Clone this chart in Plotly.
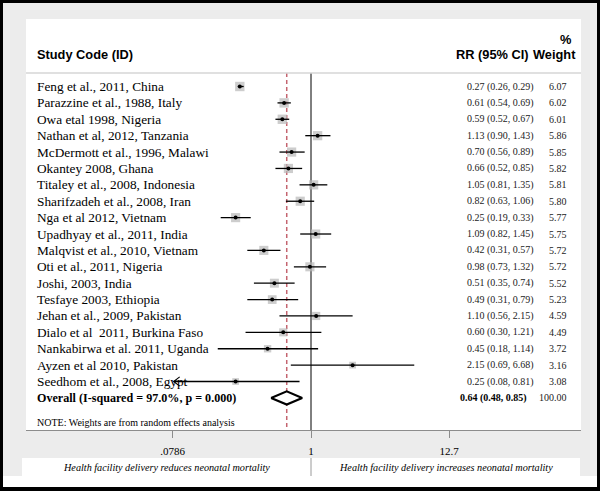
import math
import plotly.graph_objects as go

# ---------------- data ----------------
studies = [
    "Feng et al., 2011, China",
    "Parazzine et al., 1988, Italy",
    "Owa etal 1998, Nigeria",
    "Nathan et al, 2012, Tanzania",
    "McDermott et al., 1996, Malawi",
    "Okantey 2008, Ghana",
    "Titaley et al., 2008, Indonesia",
    "Sharifzadeh et al., 2008, Iran",
    "Nga et al 2012, Vietnam",
    "Upadhyay et al., 2011, India",
    "Malqvist et al., 2010, Vietnam",
    "Oti et al., 2011, Nigeria",
    "Joshi, 2003, India",
    "Tesfaye 2003, Ethiopia",
    "Jehan et al., 2009, Pakistan",
    "Dialo et al\u00a0 2011, Burkina Faso",
    "Nankabirwa et al. 2011, Uganda",
    "Ayzen et al 2010, Pakistan",
    "Seedhom et al., 2008, Egypt",
]
rr = [0.27, 0.61, 0.59, 1.13, 0.70, 0.66, 1.05, 0.82, 0.25, 1.09,
      0.42, 0.98, 0.51, 0.49, 1.10, 0.60, 0.45, 2.15, 0.25]
ci_lo = [0.26, 0.54, 0.52, 0.90, 0.56, 0.52, 0.81, 0.63, 0.19, 0.82,
         0.31, 0.73, 0.35, 0.31, 0.56, 0.30, 0.18, 0.69, 0.08]
ci_hi = [0.29, 0.69, 0.67, 1.43, 0.89, 0.85, 1.35, 1.06, 0.33, 1.45,
         0.57, 1.32, 0.74, 0.79, 2.15, 1.21, 1.14, 6.68, 0.81]
weights = [6.07, 6.02, 6.01, 5.86, 5.85, 5.82, 5.81, 5.80, 5.77, 5.75,
           5.72, 5.72, 5.52, 5.23, 4.59, 4.49, 3.72, 3.16, 3.08]

overall_label = "Overall (I-squared = 97.0%, p = 0.000)"
overall_rr = 0.64
overall_lo = 0.48
overall_hi = 0.85
overall_weight = "100.00"

tick_vals = [0.0786, 1, 12.7]
tick_text = [".0786", "1", "12.7"]

header_study = "Study Code (ID)"
header_rr = "RR (95% CI)"
header_w1 = "%"
header_w2 = "Weight"
note_text = "NOTE: Weights are from random effects analysis"
left_label = "Health facility delivery reduces neonatal mortality"
right_label = "Health facility delivery increases neonatal mortality"

# ---------------- geometry ----------------
W, H = 600, 491
PL, PR, PT, PB = 26, 581, 19, 430          # plot area in pixels
PX_ONE = 311                               # pixel of RR = 1
PX_PER_DEC = 125.2
ROW0_PX, ROW_STEP = 86.5, 16.39

def xp(px):   # pixel -> paper x
    return (px - PL) / (PR - PL)

def yp(py):   # pixel -> paper y
    return (PB - py) / (PB - PT)

def yrow(py):  # pixel -> row units
    return (py - ROW0_PX) / ROW_STEP

rows = list(range(len(studies)))
overall_row = len(studies)

serif = "Liberation Serif, Times New Roman, serif"
sans = "Liberation Sans, Arial, Helvetica, sans-serif"

fig = go.Figure()

# reference lines
y_top, y_bot = yrow(73), yrow(PB)
fig.add_trace(go.Scatter(x=[1, 1], y=[y_top, y_bot], mode="lines",
                         line=dict(color="black", width=1), hoverinfo="skip"))
fig.add_trace(go.Scatter(x=[overall_rr, overall_rr], y=[y_top, y_bot], mode="lines",
                         line=dict(color="#c4646f", width=1.5, dash="4px,3px"),
                         hoverinfo="skip"))

# weight boxes
wmax = max(weights)
sizes = [9.4 * math.sqrt(w / wmax) for w in weights]
fig.add_trace(go.Scatter(x=rr, y=rows, mode="markers",
                         marker=dict(symbol="square", size=sizes, color="#b8b8b8",
                                     line=dict(width=0)), hoverinfo="skip"))

# CI lines (clipped at axis minimum tick, arrows for clipped)
clip_lo = tick_vals[0]
lx, ly, ax_, ay_ = [], [], [], []
f = 10 ** (6 / PX_PER_DEC)
for r, lo, hi in zip(rows, ci_lo, ci_hi):
    left = max(lo, clip_lo)
    lx += [left, hi, None]
    ly += [r, r, None]
    if lo < clip_lo * 1.1:
        ax_ += [left * f, left, left * f, None]
        ay_ += [r - 0.28, r, r + 0.28, None]
fig.add_trace(go.Scatter(x=lx, y=ly, mode="lines",
                         line=dict(color="black", width=1.3), hoverinfo="skip"))
fig.add_trace(go.Scatter(x=ax_, y=ay_, mode="lines",
                         line=dict(color="black", width=1.1), hoverinfo="skip"))

# point estimates
fig.add_trace(go.Scatter(x=rr, y=rows, mode="markers",
                         marker=dict(symbol="circle", size=4, color="black"),
                         hoverinfo="skip"))

# overall diamond
dh = 0.4
fig.add_trace(go.Scatter(
    x=[overall_lo, overall_rr, overall_hi, overall_rr, overall_lo],
    y=[overall_row, overall_row - dh, overall_row, overall_row + dh, overall_row],
    mode="lines", fill="toself", fillcolor="white",
    line=dict(color="black", width=2.2), hoverinfo="skip"))

# ---------------- text ----------------
ann = []
for r, s, est, lo, hi, w in zip(rows, studies, rr, ci_lo, ci_hi, weights):
    ann.append(dict(x=xp(35), y=r, xref="paper", yref="y", text=s,
                    xanchor="left", yanchor="middle", showarrow=False,
                    font=dict(family=serif, size=13.3, color="black")))
    ann.append(dict(x=xp(465), y=r, xref="paper", yref="y",
                    text=f"{est:.2f} ({lo:.2f}, {hi:.2f})",
                    xanchor="left", yanchor="middle", showarrow=False,
                    font=dict(family=serif, size=10, color="#222")))
    ann.append(dict(x=xp(569), y=r, xref="paper", yref="y", text=f"{w:.2f}",
                    xanchor="right", yanchor="middle", showarrow=False,
                    font=dict(family=serif, size=10, color="#222")))

ann.append(dict(x=xp(35), y=overall_row, xref="paper", yref="y",
                text="<b>" + overall_label + "</b>", xanchor="left", yanchor="middle",
                showarrow=False, font=dict(family=serif, size=12.1, color="black")))
ann.append(dict(x=xp(458), y=overall_row, xref="paper", yref="y",
                text=f"<b>{overall_rr:.2f} ({overall_lo:.2f}, {overall_hi:.2f})</b>",
                xanchor="left", yanchor="middle", showarrow=False,
                font=dict(family=serif, size=10, color="black")))
ann.append(dict(x=xp(569), y=overall_row, xref="paper", yref="y", text=overall_weight,
                xanchor="right", yanchor="middle", showarrow=False,
                font=dict(family=serif, size=10, color="#222")))

ann.append(dict(x=xp(35), y=yrow(422), xref="paper", yref="y", text=note_text,
                xanchor="left", yanchor="middle", showarrow=False,
                font=dict(family=serif, size=10, color="black")))

# headers
ann.append(dict(x=xp(35), y=yrow(54), xref="paper", yref="y", text="<b>" + header_study + "</b>",
                xanchor="left", yanchor="middle", showarrow=False,
                font=dict(family=sans, size=12.8, color="black")))
ann.append(dict(x=xp(531), y=yrow(54), xref="paper", yref="y", text="<b>" + header_rr + "</b>",
                xanchor="right", yanchor="middle", showarrow=False,
                font=dict(family=sans, size=12.8, color="black")))
ann.append(dict(x=xp(578), y=yrow(54), xref="paper", yref="y", text="<b>" + header_w2 + "</b>",
                xanchor="right", yanchor="middle", showarrow=False,
                font=dict(family=sans, size=12.8, color="black")))
ann.append(dict(x=xp(566), y=yrow(39), xref="paper", yref="y", text="<b>" + header_w1 + "</b>",
                xanchor="center", yanchor="middle", showarrow=False,
                font=dict(family=sans, size=12.8, color="black")))

# bottom labels
ann.append(dict(x=xp(166), y=yp(467), xref="paper", yref="paper",
                text="<i>" + left_label + "</i>", xanchor="center", yanchor="middle",
                showarrow=False, font=dict(family=serif, size=10.2, color="black")))
ann.append(dict(x=xp(446), y=yp(467), xref="paper", yref="paper",
                text="<i>" + right_label + "</i>", xanchor="center", yanchor="middle",
                showarrow=False, font=dict(family=serif, size=10.2, color="black")))

# ---------------- background shapes ----------------
shapes = [
    dict(type="rect", xref="paper", yref="paper", x0=xp(3), x1=xp(597), y0=yp(3), y1=yp(487),
         fillcolor="white", line=dict(width=0), layer="below"),
    dict(type="rect", xref="paper", yref="paper", x0=xp(3), x1=xp(597), y0=yp(3), y1=yp(476),
         fillcolor="#ececec", line=dict(width=0), layer="below"),
    dict(type="rect", xref="paper", yref="paper", x0=0, x1=1, y0=0, y1=1,
         fillcolor="white", line=dict(width=0), layer="below"),
    dict(type="rect", xref="paper", yref="paper", x0=xp(22), x1=xp(580), y0=yp(458), y1=yp(476),
         fillcolor="white", line=dict(width=0), layer="below"),
    dict(type="line", xref="paper", yref="paper", x0=0, x1=1, y0=yp(73), y1=yp(73),
         line=dict(color="#d6d6d6", width=1.6)),
    dict(type="line", xref="paper", yref="paper", x0=xp(PX_ONE), x1=xp(PX_ONE),
         y0=yp(458), y1=yp(476), line=dict(color="#9a9a9a", width=1)),
]

x_range = [(PL - PX_ONE) / PX_PER_DEC, (PR - PX_ONE) / PX_PER_DEC]

fig.update_layout(
    width=W, height=H,
    margin=dict(l=PL, r=W - PR, t=PT, b=H - PB, pad=0),
    paper_bgcolor="black", plot_bgcolor="white",
    showlegend=False,
    annotations=ann, shapes=shapes,
    xaxis=dict(type="log", range=x_range, tickvals=tick_vals, ticktext=tick_text,
               ticks="outside", ticklen=7, tickcolor="#8c8c8c", tickwidth=1,
               showline=True, linecolor="#8c8c8c", linewidth=1,
               showgrid=False, zeroline=False, ticklabelstandoff=4,
               tickfont=dict(family=serif, size=11, color="black"), fixedrange=True),
    yaxis=dict(range=[yrow(PB), yrow(PT)], visible=False, showgrid=False,
               zeroline=False, fixedrange=True),
)

fig.write_html(
    "out.html",
    config={"displayModeBar": False},
    post_script="document.body.style.margin='0';document.body.style.overflow='hidden';",
)
